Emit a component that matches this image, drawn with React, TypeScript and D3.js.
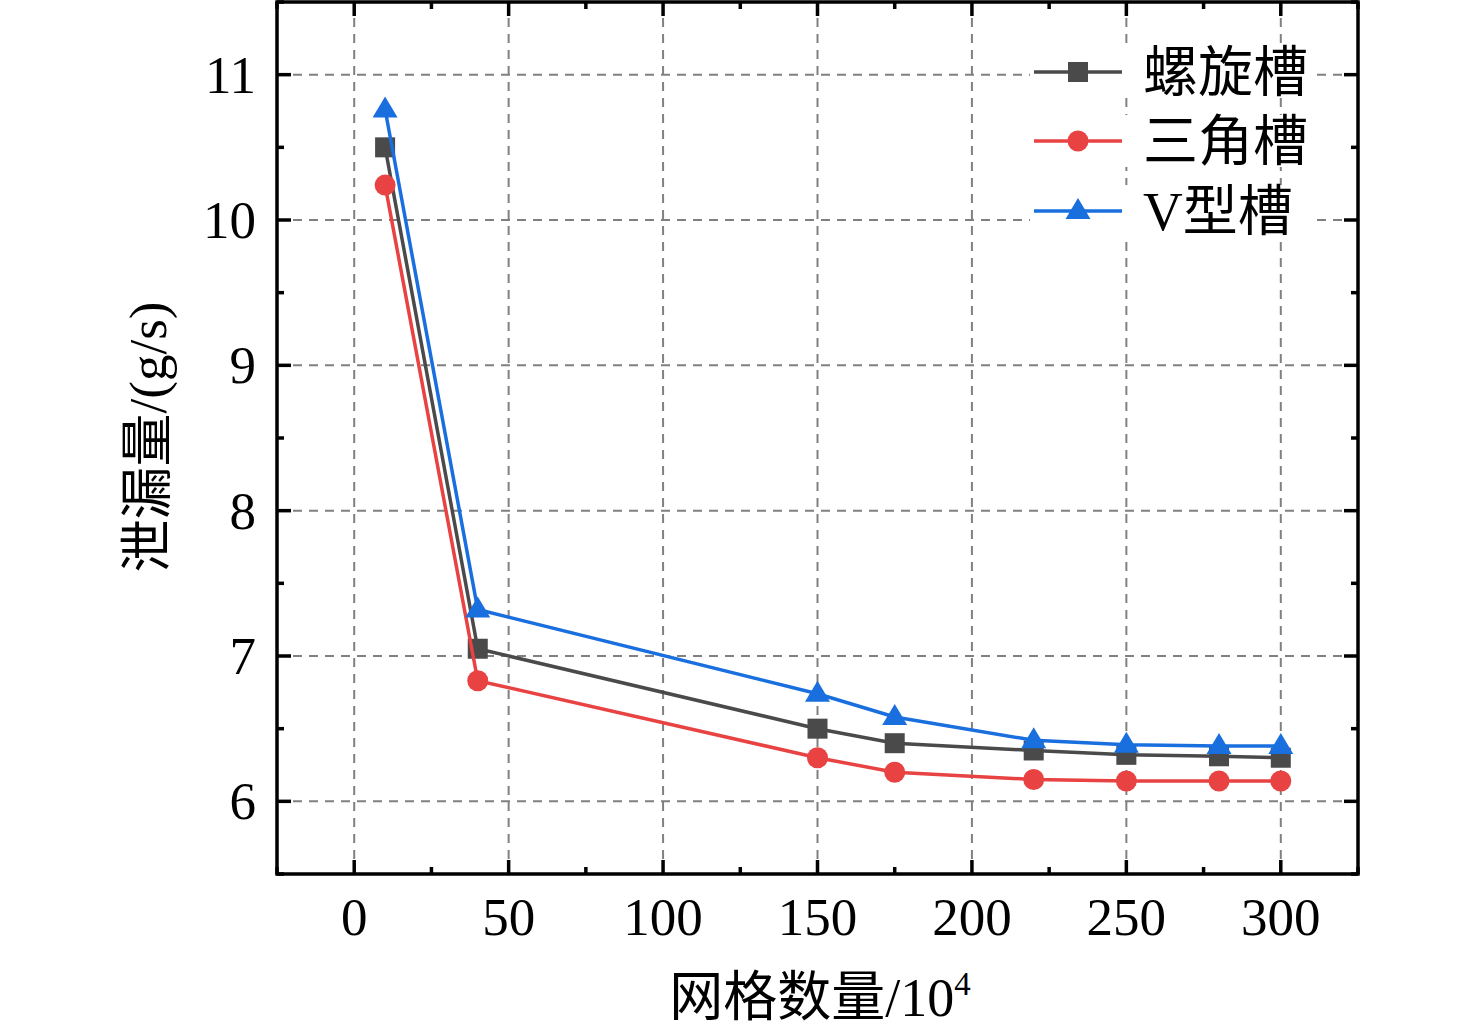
import React, { useEffect, useRef } from "react";
import * as d3 from "d3";

// grid counts (x 10^4)
const gridCounts = [10, 40, 150, 175, 220, 250, 280, 300];

// leakage values (g/s)
const spiralGroove = [10.5, 7.05, 6.5, 6.4, 6.35, 6.32, 6.31, 6.3];
const triangleGroove = [10.24, 6.83, 6.3, 6.2, 6.15, 6.14, 6.14, 6.14];
const vGroove = [10.76, 7.32, 6.74, 6.58, 6.42, 6.39, 6.38, 6.38];

const seriesNames = ["螺旋槽", "三角槽", "V型槽"];
const seriesColors = ["#4a4a4a", "#e84242", "#1a6fdf"];
const seriesShapes = ["square", "circle", "triangle"];

const xTicks = [0, 50, 100, 150, 200, 250, 300];
const yTicks = [6, 7, 8, 9, 10, 11];

const serif = "'Liberation Serif', 'Noto Sans CJK SC', serif";

export default function App() {
	const svgRef = useRef<SVGSVGElement | null>(null);

	useEffect(() => {
		if (!svgRef.current) return;
		document.body.style.margin = "0";

		const width = 1476;
		const height = 1035;
		const plot = { left: 277, right: 1358, top: 2, bottom: 874 };

		const x = d3.scaleLinear().domain([-25, 325]).range([plot.left, plot.right]);
		const y = d3.scaleLinear().domain([5.5, 11.5]).range([plot.bottom, plot.top]);

		const svg = d3.select(svgRef.current);
		svg.selectAll("*").remove();
		svg.attr("viewBox", `0 0 ${width} ${height}`);

		svg.append("rect").attr("width", width).attr("height", height).attr("fill", "white");

		// grid
		const grid = svg.append("g").attr("stroke", "#808080").attr("stroke-width", 2).attr("stroke-dasharray", "9,7");
		xTicks.forEach((t) => {
			grid.append("line").attr("x1", x(t)).attr("x2", x(t)).attr("y1", plot.top).attr("y2", plot.bottom);
		});
		yTicks.forEach((t) => {
			grid.append("line").attr("x1", plot.left).attr("x2", plot.right).attr("y1", y(t)).attr("y2", y(t));
		});

		// ticks on all four sides, pointing inward
		const ticks = svg.append("g").attr("stroke", "black").attr("stroke-width", 3.5);
		const xMinor = d3.range(-25, 326, 25);
		xMinor.forEach((t) => {
			const len = t % 50 === 0 ? 14 : 7;
			ticks.append("line").attr("x1", x(t)).attr("x2", x(t)).attr("y1", plot.bottom).attr("y2", plot.bottom - len);
			ticks.append("line").attr("x1", x(t)).attr("x2", x(t)).attr("y1", plot.top).attr("y2", plot.top + len);
		});
		const yMinor = d3.range(5.5, 11.51, 0.5);
		yMinor.forEach((t) => {
			const len = Math.abs(t - Math.round(t)) < 1e-6 ? 14 : 7;
			ticks.append("line").attr("x1", plot.left).attr("x2", plot.left + len).attr("y1", y(t)).attr("y2", y(t));
			ticks.append("line").attr("x1", plot.right).attr("x2", plot.right - len).attr("y1", y(t)).attr("y2", y(t));
		});

		// tick labels
		svg
			.append("g")
			.selectAll("text")
			.data(xTicks)
			.enter()
			.append("text")
			.attr("x", (d) => x(d))
			.attr("y", 935)
			.attr("text-anchor", "middle")
			.attr("font-family", serif)
			.attr("font-size", 53)
			.text((d) => d);
		svg
			.append("g")
			.selectAll("text")
			.data(yTicks)
			.enter()
			.append("text")
			.attr("x", 256)
			.attr("y", (d) => y(d) + 18)
			.attr("text-anchor", "end")
			.attr("font-family", serif)
			.attr("font-size", 53)
			.text((d) => d);

		// axis titles
		const xt = svg
			.append("text")
			.attr("x", 820)
			.attr("y", 1016)
			.attr("text-anchor", "middle")
			.attr("font-family", serif)
			.attr("font-size", 54);
		xt.append("tspan").text("网格数量/10");
		xt.append("tspan").attr("font-size", 33).attr("dy", -21).text("4");

		svg
			.append("text")
			.attr("transform", "translate(166,437) rotate(-90)")
			.attr("text-anchor", "middle")
			.attr("font-family", serif)
			.attr("font-size", 53)
			.text("泄漏量/(g/s)");

		// series
		const allSeries = [spiralGroove, triangleGroove, vGroove];
		const line = d3
			.line<number>()
			.x((_, i) => x(gridCounts[i]))
			.y((d) => y(d));

		const drawMarker = (g: any, shape: string, cx: number, cy: number, color: string) => {
			if (shape === "square") {
				g.append("rect").attr("x", cx - 10).attr("y", cy - 10).attr("width", 20).attr("height", 20).attr("fill", color);
			} else if (shape === "circle") {
				g.append("circle").attr("cx", cx).attr("cy", cy).attr("r", 10.5).attr("fill", color);
			} else {
				g.append("path")
					.attr("d", `M${cx},${cy - 13}L${cx + 12.5},${cy + 8}L${cx - 12.5},${cy + 8}Z`)
					.attr("fill", color);
			}
		};

		allSeries.forEach((vals, si) => {
			const g = svg.append("g");
			g.append("path")
				.attr("d", line(vals))
				.attr("fill", "none")
				.attr("stroke", seriesColors[si])
				.attr("stroke-width", 3.5);
			vals.forEach((v, i) => drawMarker(g, seriesShapes[si], x(gridCounts[i]), y(v), seriesColors[si]));
		});

		// legend
		const legendY = [72, 141, 211];
		seriesNames.forEach((name, si) => {
			const g = svg.append("g");
			g.append("rect").attr("x", 1030).attr("y", legendY[si] - 26).attr("width", 280).attr("height", 52).attr("fill", "white");
			g.append("line")
				.attr("x1", 1034)
				.attr("x2", 1122)
				.attr("y1", legendY[si])
				.attr("y2", legendY[si])
				.attr("stroke", seriesColors[si])
				.attr("stroke-width", 3.5);
			drawMarker(g, seriesShapes[si], 1078, legendY[si], seriesColors[si]);
			g.append("text")
				.attr("x", 1143)
				.attr("y", legendY[si] + 19)
				.attr("font-family", serif)
				.attr("font-size", 55)
				.text(name);
		});

		// frame
		svg.append("rect")
			.attr("x", plot.left)
			.attr("y", plot.top)
			.attr("width", plot.right - plot.left)
			.attr("height", plot.bottom - plot.top)
			.attr("fill", "none")
			.attr("stroke", "black")
			.attr("stroke-width", 3.5);
	}, []);

	return <svg ref={svgRef} width={1476} height={1035} style={{ display: "block" }} />;
}
